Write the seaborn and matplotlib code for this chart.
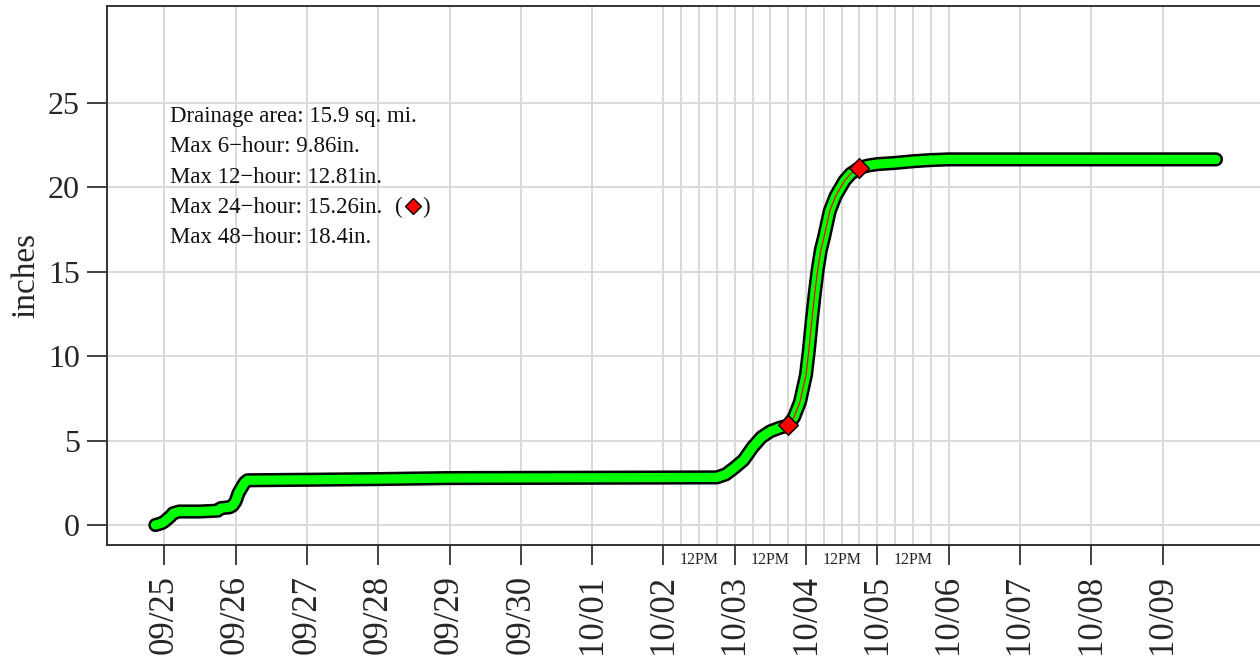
import numpy as np
import pandas as pd
import matplotlib
matplotlib.use("Agg")
import matplotlib.pyplot as plt
import matplotlib.dates as mdates
import matplotlib.ticker as mticker
import seaborn as sns

# ---------------- data ----------------
times = [
    "2024-09-24 21:00", "2024-09-24 23:00", "2024-09-25 00:00", "2024-09-25 02:00",
    "2024-09-25 03:00", "2024-09-25 05:00", "2024-09-25 12:00", "2024-09-25 18:00",
    "2024-09-25 19:00", "2024-09-25 22:00", "2024-09-25 23:00", "2024-09-26 00:00",
    "2024-09-26 01:00", "2024-09-26 02:00", "2024-09-26 03:00", "2024-09-26 04:00",
    "2024-09-27 00:00", "2024-09-28 00:00", "2024-09-29 00:00", "2024-10-01 00:00",
    "2024-10-02 18:00", "2024-10-02 21:00", "2024-10-03 00:00", "2024-10-03 03:00",
    "2024-10-03 06:00", "2024-10-03 09:00", "2024-10-03 12:00", "2024-10-03 15:00",
    "2024-10-03 18:00", "2024-10-03 20:00", "2024-10-03 22:00", "2024-10-04 00:00",
    "2024-10-04 01:00", "2024-10-04 02:00", "2024-10-04 03:00", "2024-10-04 04:00",
    "2024-10-04 05:00", "2024-10-04 06:00", "2024-10-04 08:00", "2024-10-04 10:00",
    "2024-10-04 13:00", "2024-10-04 15:00", "2024-10-04 18:00", "2024-10-04 21:00",
    "2024-10-05 00:00", "2024-10-05 06:00", "2024-10-05 12:00", "2024-10-05 18:00",
    "2024-10-06 00:00", "2024-10-09 18:00",
]
inches = [
    0.0, 0.1, 0.2, 0.5,
    0.7, 0.8, 0.8, 0.85,
    1.0, 1.05, 1.15, 1.4,
    1.9, 2.2, 2.5, 2.65,
    2.68, 2.72, 2.78, 2.8,
    2.82, 3.0, 3.4, 3.85,
    4.6, 5.2, 5.55, 5.75,
    5.9, 6.4, 7.3, 8.9,
    10.4, 12.2, 13.8, 15.2,
    16.3, 17.0, 18.6, 19.5,
    20.4, 20.8, 21.16, 21.3,
    21.38, 21.45, 21.55, 21.62,
    21.66, 21.66,
]
max24_start = "2024-10-03 18:00"
max24_end = "2024-10-04 18:00"

y_ticks = [0, 5, 10, 15, 20, 25]
day_ticks = pd.date_range("2024-09-25", "2024-10-09", freq="D")
noon_days = ["2024-10-02", "2024-10-03", "2024-10-04", "2024-10-05"]
noon_label = "12PM"

info_lines = [
    "Drainage area: 15.9 sq. mi.",
    "Max 6\u2212hour: 9.86in.",
    "Max 12\u2212hour: 12.81in.",
    "Max 24\u2212hour: 15.26in.",
    "Max 48\u2212hour: 18.4in.",
]
y_label = "inches"

# ---------------- style ----------------
sns.set_style("white")
plt.rcParams["font.family"] = ["Liberation Serif", "DejaVu Serif"]

W, H = 1260, 665
fig = plt.figure(figsize=(W / 100, H / 100), dpi=100)
ax_l, ax_r, ax_t, ax_b = 107, 1260, 6, 545
ax = fig.add_axes([ax_l / W, 1 - ax_b / H, (ax_r - ax_l) / W, (ax_b - ax_t) / H])

df = pd.DataFrame({"time": pd.to_datetime(times), "inches": inches})
t0, t1 = pd.Timestamp(max24_start), pd.Timestamp(max24_end)
win = df[(df["time"] >= t0) & (df["time"] <= t1)]
ends = df[df["time"].isin([t0, t1])]

# grid
grid_c = "#d9d9d9"
fine_lines = pd.date_range("2024-10-02", "2024-10-06", freq="6h")
for t in day_ticks.union(fine_lines):
    ax.axvline(mdates.date2num(t), color=grid_c, lw=1.4, zorder=0)
for yv in y_ticks:
    ax.axhline(yv, color=grid_c, lw=1.4, zorder=0)

sns.lineplot(data=df, x="time", y="inches", color="black", lw=10.2,
             solid_capstyle="round", solid_joinstyle="round", ax=ax, zorder=3)
sns.lineplot(data=df, x="time", y="inches", color="#00ff00", lw=6.6,
             solid_capstyle="round", solid_joinstyle="round", ax=ax, zorder=4)
sns.lineplot(data=win, x="time", y="inches", color="#ff0000", lw=0.9, ax=ax, zorder=5)
sns.scatterplot(data=ends, x="time", y="inches", marker="D", s=100, color="#ff0000",
                edgecolor="black", linewidth=1.0, ax=ax, zorder=6)

# limits
base = pd.Timestamp("2024-09-25")
px_per_day = 71.3
x_left = base - pd.Timedelta(days=(164.3 - ax_l) / px_per_day)
x_right = base + pd.Timedelta(days=(ax_r - 164.3) / px_per_day)
ax.set_xlim(mdates.date2num(x_left), mdates.date2num(x_right))
px_per_in = 16.88
ax.set_ylim(-(ax_b - 525) / px_per_in, (525 - ax_t) / px_per_in)

# ticks
ax.xaxis.set_major_locator(mticker.FixedLocator([mdates.date2num(t) for t in day_ticks]))
ax.xaxis.set_major_formatter(mdates.DateFormatter("%m/%d"))
ax.xaxis.set_minor_locator(mticker.FixedLocator(
    [mdates.date2num(pd.Timestamp(d) + pd.Timedelta(hours=12)) for d in noon_days]))
ax.xaxis.set_minor_formatter(mticker.FuncFormatter(lambda v, p: noon_label))
ax.tick_params(axis="x", which="major", direction="out", length=14.5, width=1.2,
               labelsize=25, pad=7, labelrotation=90, color="#222222")
ax.tick_params(axis="x", which="minor", direction="in", length=7, width=1.2,
               labelsize=11.5, pad=5, color="#222222", labelcolor="#222222")
ax.set_yticks(y_ticks)
ax.tick_params(axis="y", direction="out", length=14.5, width=1.2, labelsize=23,
               pad=5, color="#222222", left=True)
ax.tick_params(axis="x", bottom=True)
ax.set_xlabel("")
ax.set_ylabel(y_label, fontsize=24)
ax.yaxis.set_label_coords(-0.057, 0.5)

for s in ["left", "bottom", "top"]:
    ax.spines[s].set_color("#333333")
    ax.spines[s].set_linewidth(1.4)
ax.spines["right"].set_visible(False)

# info text block
def ax_xy(px, py):
    return (px - ax_l) / (ax_r - ax_l), (ax_b - py) / (ax_b - ax_t)

baselines = [121.7, 151.7, 182.7, 213.3, 243.0]
for line, b in zip(info_lines, baselines):
    x, y = ax_xy(170, b)
    ax.text(x, y, line, transform=ax.transAxes, fontsize=16.5, va="baseline",
            ha="left", color="#111111", zorder=7)
x, y = ax_xy(395, 213.3)
ax.text(x, y, "(", transform=ax.transAxes, fontsize=16.5, va="baseline", ha="left", color="#111111")
x, y = ax_xy(422, 213.3)
ax.text(x, y, ")", transform=ax.transAxes, fontsize=16.5, va="baseline", ha="left", color="#111111")
x, y = ax_xy(413.5, 205.7)
ax.plot([x], [y], marker="D", ms=8.5, mfc="#ff0000", mec="black", mew=1.0,
        transform=ax.transAxes, clip_on=False, zorder=7)

fig.savefig("out.png", dpi=100)
